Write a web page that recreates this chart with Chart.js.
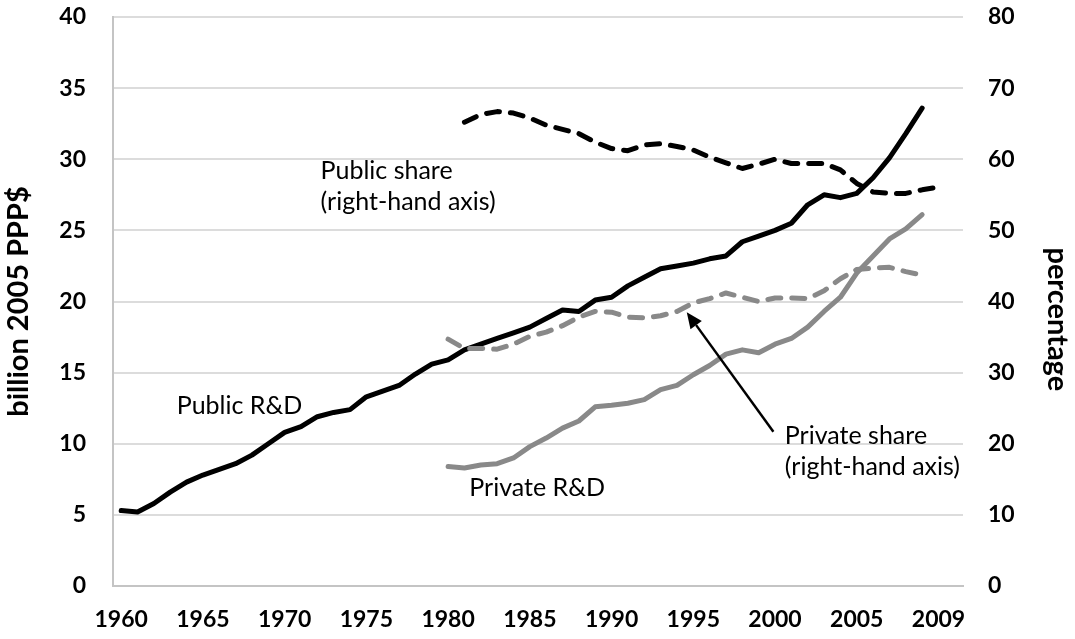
<!DOCTYPE html>
<html>
<head>
<meta charset="utf-8">
<script src="https://cdn.jsdelivr.net/npm/chart.js@4.4.1/dist/chart.umd.min.js"></script>
<style>
  html, body { margin: 0; padding: 0; background: #fff; }
  #chart { display: block; }
</style>
</head>
<body>
<canvas id="chart" width="1075" height="639"></canvas>
<script>
// categories: one slot per year, the axis runs a little past the data
const years = [];
for (let y = 1960; y <= 2011; y++) years.push(String(y));

// tick labels shown every 5th slot, as printed on the original
const xTickLabels = ['1960', '1965', '1970', '1975', '1980', '1985', '1990', '1995', '2000', '2005', '2009'];

// billion 2005 PPP$, 1960-2009
const publicRD = [
  5.3, 5.2, 5.8, 6.6, 7.3, 7.8, 8.2, 8.6, 9.2, 10.0,
  10.8, 11.2, 11.9, 12.2, 12.4, 13.3, 13.7, 14.1, 14.9, 15.6,
  15.9, 16.6, 17.0, 17.4, 17.8, 18.2, 18.8, 19.4, 19.3, 20.1,
  20.3, 21.1, 21.7, 22.3, 22.5, 22.7, 23.0, 23.2, 24.2, 24.6,
  25.0, 25.5, 26.8, 27.5, 27.3, 27.6, 28.7, 30.1, 31.8, 33.6
];

// billion 2005 PPP$, 1980-2009
const privateRD = [
  8.4, 8.3, 8.5, 8.6, 9.0, 9.8, 10.4, 11.1, 11.6, 12.6,
  12.7, 12.85, 13.1, 13.8, 14.1, 14.85, 15.5, 16.3, 16.6, 16.4,
  17.0, 17.4, 18.2, 19.3, 20.3, 22.0, 23.2, 24.4, 25.1, 26.1
];

// percentage, plotted from the 1981 slot to the 2010 slot
const publicShare = [
  65.2, 66.3, 66.7, 66.5, 65.8, 64.8, 64.2, 63.6, 62.4, 61.5,
  61.2, 62.0, 62.2, 61.8, 61.3, 60.3, 59.5, 58.7, 59.3, 60.0,
  59.4, 59.4, 59.4, 58.5, 56.6, 55.4, 55.2, 55.2, 55.7, 56.1
];

// percentage, 1980-2009
const privateShare = [
  34.7, 33.4, 33.4, 33.3, 34.0, 35.1, 35.7, 36.6, 37.8, 38.6,
  38.5, 37.8, 37.7, 38.0, 38.6, 39.8, 40.4, 41.2, 40.6, 40.0,
  40.5, 40.5, 40.4, 41.5, 43.2, 44.5, 44.7, 44.8, 44.2, 43.7
];

const FONT = 'Lato, "Noto Sans", sans-serif';
const GRAY = '#898989';

// pad a series so it lines up with the year slots
function placeSeries(startYear, values) {
  const out = years.map(() => null);
  const offset = startYear - 1960;
  values.forEach((v, i) => { out[offset + i] = v; });
  return out;
}

// free text labels, anchored in axis units (slot index, left-axis value)
const textLabels = [
  { lines: ['Public share', '(right-hand axis)'], slot: 12.2, value: 29.2 },
  { lines: ['Public R&D'], slot: 3.4, value: 12.65 },
  { lines: ['Private R&D'], slot: 21.3, value: 6.9 },
  { lines: ['Private share', '(right-hand axis)'], slot: 40.6, value: 10.55 }
];
const arrow = { from: [39.9, 10.85], to: [34.6, 19.25] };
// right-hand axis title, centred on this right-axis value
const rightTitle = { text: 'percentage', value: 37.5 };

const annotationPlugin = {
  id: 'annotations',
  afterDraw(chart) {
    const { ctx, scales } = chart;
    const xs = scales.x;
    const ys = scales.y;
    ctx.save();
    ctx.fillStyle = '#000';
    ctx.font = `25px ${FONT}`;
    ctx.textAlign = 'left';
    ctx.textBaseline = 'middle';
    textLabels.forEach((lbl) => {
      const x = xs.getPixelForValue(lbl.slot);
      const y = ys.getPixelForValue(lbl.value);
      lbl.lines.forEach((line, i) => ctx.fillText(line, x, y + i * 31));
    });

    const x1 = xs.getPixelForValue(arrow.from[0]);
    const y1 = ys.getPixelForValue(arrow.from[1]);
    const x2 = xs.getPixelForValue(arrow.to[0]);
    const y2 = ys.getPixelForValue(arrow.to[1]);
    const ang = Math.atan2(y2 - y1, x2 - x1);
    const headLen = 16;
    const headHalf = 7;
    const bx = x2 - headLen * Math.cos(ang);
    const by = y2 - headLen * Math.sin(ang);
    ctx.strokeStyle = '#000';
    ctx.lineWidth = 2.5;
    ctx.beginPath();
    ctx.moveTo(x1, y1);
    ctx.lineTo(bx, by);
    ctx.stroke();
    ctx.beginPath();
    ctx.moveTo(x2, y2);
    ctx.lineTo(bx + headHalf * Math.sin(ang), by - headHalf * Math.cos(ang));
    ctx.lineTo(bx - headHalf * Math.sin(ang), by + headHalf * Math.cos(ang));
    ctx.closePath();
    ctx.fill();

    // right-hand title, reading downwards
    const r = scales.y1;
    ctx.translate(r.right - 18, r.getPixelForValue(rightTitle.value));
    ctx.rotate(Math.PI / 2);
    ctx.font = `bold 29px ${FONT}`;
    ctx.textAlign = 'center';
    ctx.fillText(rightTitle.text, 0, 0);
    ctx.restore();
  }
};

function lineSet(label, data, color, axis, dashed) {
  return {
    label,
    data,
    yAxisID: axis,
    borderColor: color,
    backgroundColor: color,
    borderWidth: 5,
    borderDash: dashed ? [13, 11] : [],
    borderCapStyle: 'round',
    borderJoinStyle: 'round',
    pointRadius: 0,
    pointHoverRadius: 0,
    tension: 0,
    spanGaps: false,
    fill: false
  };
}

// the vertical axes should not push the plot down for their end labels
function fixVertical(width) {
  return (scale) => {
    scale.width = width;
    scale.paddingTop = 0;
    scale.paddingBottom = 0;
  };
}

new Chart(document.getElementById('chart'), {
  type: 'line',
  data: {
    labels: years,
    datasets: [
      lineSet('Public share', placeSeries(1981, publicShare), '#000', 'y1', true),
      lineSet('Private share', placeSeries(1980, privateShare), GRAY, 'y1', true),
      lineSet('Private R&D', placeSeries(1980, privateRD), GRAY, 'y', false),
      lineSet('Public R&D', placeSeries(1960, publicRD), '#000', 'y', false)
    ]
  },
  options: {
    responsive: false,
    animation: false,
    layout: { padding: { top: 17, left: 0, right: 0, bottom: 0 } },
    plugins: {
      legend: { display: false },
      tooltip: { enabled: false }
    },
    scales: {
      x: {
        offset: true,
        grid: { display: false, drawTicks: false },
        border: { display: true, color: '#c4c4c4', width: 2 },
        ticks: {
          autoSkip: false,
          maxRotation: 0,
          padding: 20,
          color: '#000',
          font: { family: FONT, size: 23, weight: 'bold' },
          callback: (value, index) => (index % 5 === 0 ? (xTickLabels[index / 5] || '') : '')
        },
        afterFit: (scale) => {
          scale.height = 53;
          scale.paddingLeft = 0;
          scale.paddingRight = 0;
        }
      },
      y: {
        position: 'left',
        min: 0,
        max: 40,
        ticks: {
          stepSize: 5,
          padding: 27,
          color: '#000',
          font: { family: FONT, size: 23, weight: 'bold' }
        },
        grid: { color: '#dcdcdc', lineWidth: 2, drawTicks: false },
        border: { display: true, color: '#c4c4c4', width: 2 },
        title: {
          display: true,
          text: 'billion 2005 PPP$',
          color: '#000',
          padding: 1,
          font: { family: FONT, size: 29, weight: 'bold' }
        },
        afterFit: fixVertical(113)
      },
      y1: {
        position: 'right',
        min: 0,
        max: 80,
        ticks: {
          stepSize: 10,
          padding: 25,
          color: '#000',
          font: { family: FONT, size: 23, weight: 'bold' }
        },
        grid: { display: false, drawTicks: false },
        border: { display: false },
        afterFit: fixVertical(112)
      }
    }
  },
  plugins: [annotationPlugin]
});
</script>
</body>
</html>
